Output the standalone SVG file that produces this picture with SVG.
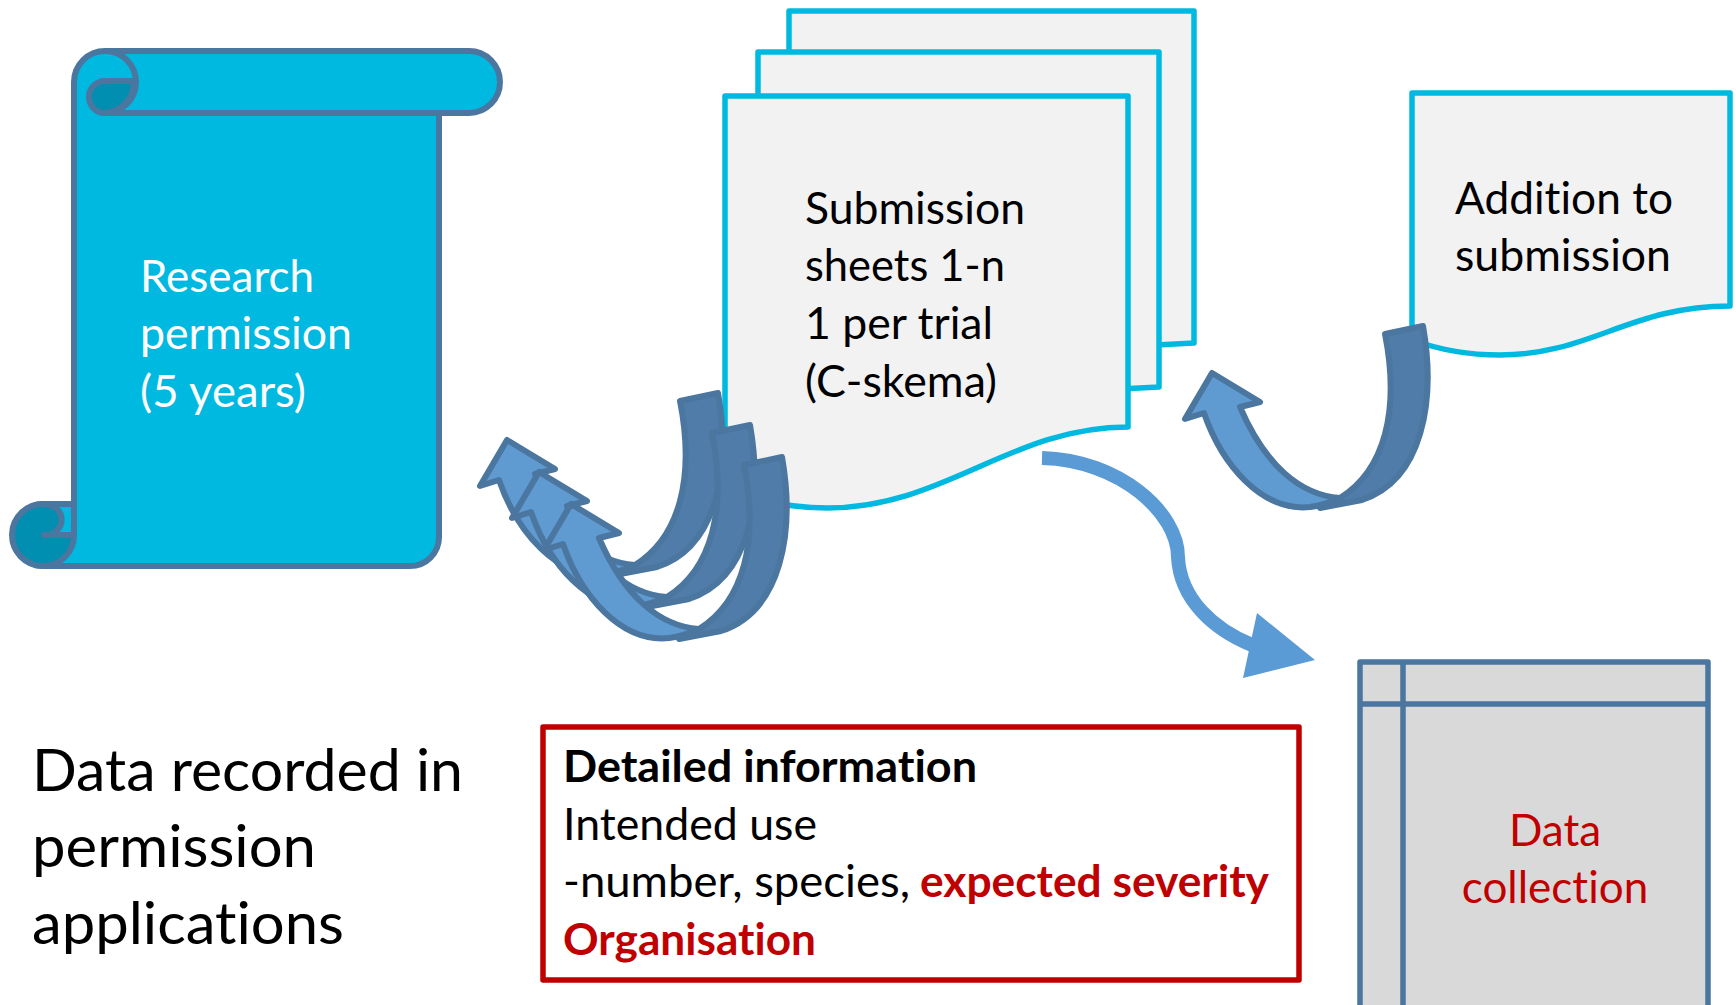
<svg xmlns="http://www.w3.org/2000/svg" xmlns:xlink="http://www.w3.org/1999/xlink" width="1736" height="1005" viewBox="0 0 1736 1005">
<style>
text{font-family:"Lato","Carlito","Liberation Sans",sans-serif;font-size:44px;fill:#000;font-variant-ligatures:none}
.big{font-size:59px}
.w{fill:#fff}
.r{fill:#c00000}
.b{font-weight:700}
.scroll{fill:#00b9e0;stroke:#4a76a0;stroke-width:6;stroke-linejoin:round}
.curl{fill:#008fb0;stroke:#4a76a0;stroke-width:6;stroke-linejoin:round}
.doc{fill:#f2f2f2;stroke:#00b9e1;stroke-width:5.500;stroke-linejoin:round}
.dk{fill:#4f7ca8;stroke:#4a76a0;stroke-width:6;stroke-linejoin:round}
.lt{fill:#5f9bd1;stroke:#4a76a0;stroke-width:6;stroke-linejoin:round}
.grid{fill:#d9d9d9;stroke:#4a76a0;stroke-width:5.500;stroke-linejoin:round}
</style>
<defs>
<g id="curved-arrow">
<path class="dk" d="M1385,334 L1423,326 C1436,400 1423,480 1362,500 L1320,508 L1340,498 C1385,470 1400,410 1385,334Z"/>
<path class="lt" d="M1340,498 C1300,495 1265,465 1240,407 L1260,402 L1212,373 L1185,419 L1204,413 C1222,465 1262,512 1310,507 Q1325,505 1340,498Z"/>
</g>
</defs>
<rect width="1736" height="1005" fill="#fff"/>
<g id="scroll">
<path class="scroll" d="M74,535 V82 A31,31 0 0 1 105,51 H469 A31,31 0 0 1 469,113 H439 V537 A29,29 0 0 1 410,566 H44 A31,31 0 0 1 44,504 H74"/>
<path class="curl" d="M105,113 A31,31 0 0 0 134,81 H105 A16,16 0 0 0 105,113Z"/>
<path class="scroll" style="fill:none" d="M105,51 A31,31 0 0 1 105,113 H439"/>
<path class="curl" d="M44,504 A31,31 0 1 0 74,535 H44 C66,535 69,506 44,504Z"/>
<text class="w" x="140" y="292" textLength="174" lengthAdjust="spacingAndGlyphs">Research</text>
<text class="w" x="140" y="349" textLength="212" lengthAdjust="spacingAndGlyphs">permission</text>
<text class="w" x="140" y="407" textLength="166" lengthAdjust="spacingAndGlyphs">(5 years)</text>
</g>
<g id="submission-sheets">
<path class="doc" d="M789,11 H1194 V343 L1100,348 H789Z"/>
<path class="doc" d="M758,52 H1159 V387 L1060,392 H758Z"/>
<path class="doc" d="M725,96 H1128 V427 C1010,427 945,508 827,508 C790,508 755,500 725,490Z"/>
<text x="805" y="224" textLength="220" lengthAdjust="spacingAndGlyphs">Submission</text>
<text x="805" y="281" textLength="200" lengthAdjust="spacingAndGlyphs">sheets 1-n</text>
<text x="805" y="339" textLength="188" lengthAdjust="spacingAndGlyphs">1 per trial</text>
<text x="805" y="397" textLength="192" lengthAdjust="spacingAndGlyphs">(C-skema)</text>
</g>
<g id="addition">
<path class="doc" d="M1412,93 H1730 V306 C1630,306 1590,355 1500,355 C1470,355 1440,350 1412,340Z"/>
<text x="1455" y="214" textLength="218" lengthAdjust="spacingAndGlyphs">Addition to</text>
<text x="1455" y="271" textLength="216" lengthAdjust="spacingAndGlyphs">submission</text>
</g>
<g id="data-collection">
<rect class="grid" x="1360" y="662" width="348" height="360"/>
<path class="grid" style="fill:none" d="M1360,704 H1708 M1403,662 V1022"/>
<text class="r" x="1555" y="846" text-anchor="middle">Data</text>
<text class="r" x="1555" y="903" text-anchor="middle">collection</text>
</g>
<g id="recorded-data">
<text class="big" x="32" y="791" textLength="431" lengthAdjust="spacingAndGlyphs">Data recorded in</text>
<text class="big" x="32" y="867" textLength="284" lengthAdjust="spacingAndGlyphs">permission</text>
<text class="big" x="32" y="944" textLength="312" lengthAdjust="spacingAndGlyphs">applications</text>
</g>
<g id="detailed-information">
<rect x="543" y="727" width="756" height="253" fill="#fff" stroke="#c00000" stroke-width="5.500" stroke-linejoin="round"/>
<text class="b" x="563" y="782" textLength="414" lengthAdjust="spacingAndGlyphs">Detailed information</text>
<text x="563" y="840" textLength="254" lengthAdjust="spacingAndGlyphs">Intended use</text>
<text x="563" y="897" textLength="347" lengthAdjust="spacingAndGlyphs">-number, species,</text>
<text class="b r" x="920" y="897" textLength="349" lengthAdjust="spacingAndGlyphs">expected severity</text>
<text class="b r" x="563" y="955" textLength="253" lengthAdjust="spacingAndGlyphs">Organisation</text>
</g>
<g id="connectors">
<use xlink:href="#curved-arrow" href="#curved-arrow" transform="translate(-705,67)"/>
<use xlink:href="#curved-arrow" href="#curved-arrow" transform="translate(-673,99)"/>
<use xlink:href="#curved-arrow" href="#curved-arrow" transform="translate(-641,131)"/>
<use xlink:href="#curved-arrow" href="#curved-arrow"/>
<path d="M1042,458 C1120,460 1178,513 1178,557 C1180,600 1215,630 1252,645" fill="none" stroke="#5b9bd5" stroke-width="14"/>
<path d="M1257,613 L1315,660 L1243,678Z" fill="#5b9bd5"/>
</g>
</svg>
